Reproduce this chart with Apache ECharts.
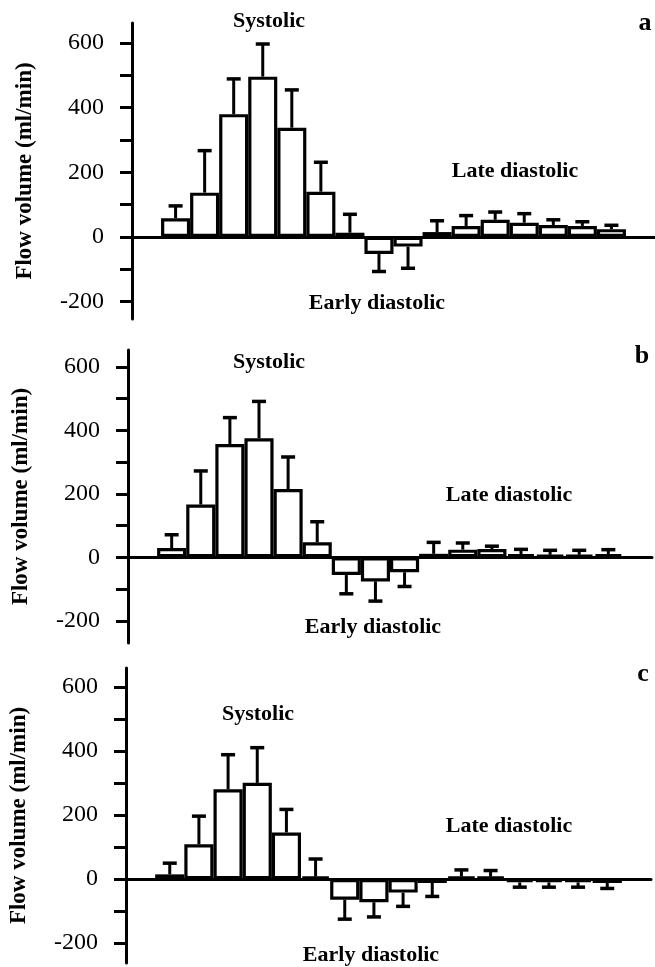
<!DOCTYPE html>
<html>
<head>
<meta charset="utf-8">
<script src="https://cdn.jsdelivr.net/npm/echarts@6/dist/echarts.min.js"></script>
<style>
  html, body { margin: 0; padding: 0; background: #fff; }
  #chart { width: 655px; height: 967px; }
</style>
</head>
<body>
<div id="chart"></div>
<script>
// 18 time bins across the cardiac cycle, first and last are empty
var bins = ['0','1','2','3','4','5','6','7','8','9','10','11','12','13','14','15','16','17'];

// mean flow per bin (ml/min), panels a, b, c
var meanA = [null, 58, 137, 380, 496, 338, 140, 13, -53, -30, 15, 34, 53, 44, 37, 34, 24, null];
var tipA  = [null, 96, 267, 489, 597, 455, 231, 70, -107, -97, 50, 66, 77, 72, 53, 47, 36, null];

var meanB = [null, 29, 166, 357, 375, 215, 47, -56, -76, -47, 11, 24, 26, 10, 8, 8, 10, null];
var tipB  = [null, 71, 272, 440, 491, 316, 112, -115, -138, -92, 47, 45, 35, 25, 22, 22, 24, null];

var meanC = [null, 15, 109, 281, 301, 146, 8, -64, -72, -42, -12, 8, 8, -10, -10, -10, -12, null];
var tipC  = [null, 50, 197, 389, 411, 218, 63, -125, -118, -85, -54, 29, 27, -25, -25, -25, -29, null];

var tickValues  = [-200, -100, 0, 100, 200, 300, 400, 500, 600];
var labelValues = [-200, 0, 200, 400, 600];

var yName = 'Flow volume (ml/min)';
var serif = "'Liberation Serif', 'Times New Roman', serif";

var chart = echarts.init(document.getElementById('chart'));

function barData(mean) {
    return mean.map(function (v) { return v === null ? '-' : v; });
}

function errData(mean, tip) {
    var out = [];
    for (var i = 0; i < mean.length; i++) {
        if (mean[i] !== null) out.push([i, mean[i], tip[i]]);
    }
    return out;
}

function renderErr(params, api) {
    var p0 = api.coord([api.value(0), api.value(1)]);
    var p1 = api.coord([api.value(0), api.value(2)]);
    var half = 7;
    return {
        type: 'group',
        children: [
            { type: 'line', shape: { x1: p0[0], y1: p0[1], x2: p1[0], y2: p1[1] },
              style: { stroke: '#000', lineWidth: 3 } },
            { type: 'line', shape: { x1: p1[0] - half, y1: p1[1], x2: p1[0] + half, y2: p1[1] },
              style: { stroke: '#000', lineWidth: 3.5 } }
        ]
    };
}

function xAx(i) {
    return {
        type: 'category', gridIndex: i, data: bins,
        axisLine: { onZero: true, lineStyle: { color: '#000', width: 3 } },
        axisTick: { show: false }, axisLabel: { show: false }, splitLine: { show: false }
    };
}

function yAx(i, min, max) {
    return {
        type: 'value', gridIndex: i, min: min, max: max,
        name: yName, nameLocation: 'middle', nameGap: 95,
        nameTextStyle: { fontFamily: serif, fontWeight: 'bold', fontSize: 23, color: '#000' },
        axisLine: { show: true, lineStyle: { color: '#000', width: 3 } },
        axisTick: { show: true, length: 12, customValues: tickValues, lineStyle: { color: '#000', width: 3 } },
        axisLabel: { customValues: labelValues, fontFamily: serif, fontSize: 24, color: '#000', margin: 28 },
        splitLine: { show: false }
    };
}

function bars(i, mean) {
    return {
        type: 'bar', xAxisIndex: i, yAxisIndex: i, data: barData(mean),
        barCategoryGap: '0%',
        itemStyle: { color: '#fff', borderColor: '#000', borderWidth: 3.2 }
    };
}

function errs(i, mean, tip) {
    return {
        type: 'custom', xAxisIndex: i, yAxisIndex: i, data: errData(mean, tip),
        renderItem: renderErr, encode: { x: 0, y: [1, 2] }, z: 3
    };
}

function label(text, x, y, size) {
    return {
        type: 'text', x: x, y: y,
        style: { text: text, fontFamily: serif, fontWeight: 'bold', fontSize: size || 22,
                 fill: '#000', textAlign: 'center', textVerticalAlign: 'middle' }
    };
}

var option = {
    animation: false,
    backgroundColor: '#fff',
    grid: [
        { left: 132, top: 23, width: 523, height: 296 },
        { left: 128, top: 350, width: 524, height: 293 },
        { left: 126, top: 668, width: 525, height: 295 }
    ],
    xAxis: [xAx(0), xAx(1), xAx(2)],
    yAxis: [yAx(0, -254, 662), yAx(1, -270, 653), yAx(2, -262, 660)],
    series: [
        bars(0, meanA), errs(0, meanA, tipA),
        bars(1, meanB), errs(1, meanB, tipB),
        bars(2, meanC), errs(2, meanC, tipC)
    ],
    graphic: [
        label('Systolic', 269, 21), label('Late diastolic', 515, 171), label('Early diastolic', 377, 303),
        label('a', 645, 23, 26),
        label('Systolic', 269, 362), label('Late diastolic', 509, 495), label('Early diastolic', 373, 627),
        label('b', 642, 356, 26),
        label('Systolic', 258, 714), label('Late diastolic', 509, 826), label('Early diastolic', 371, 955),
        label('c', 643, 674, 26)
    ]
};

chart.setOption(option);
</script>
</body>
</html>
